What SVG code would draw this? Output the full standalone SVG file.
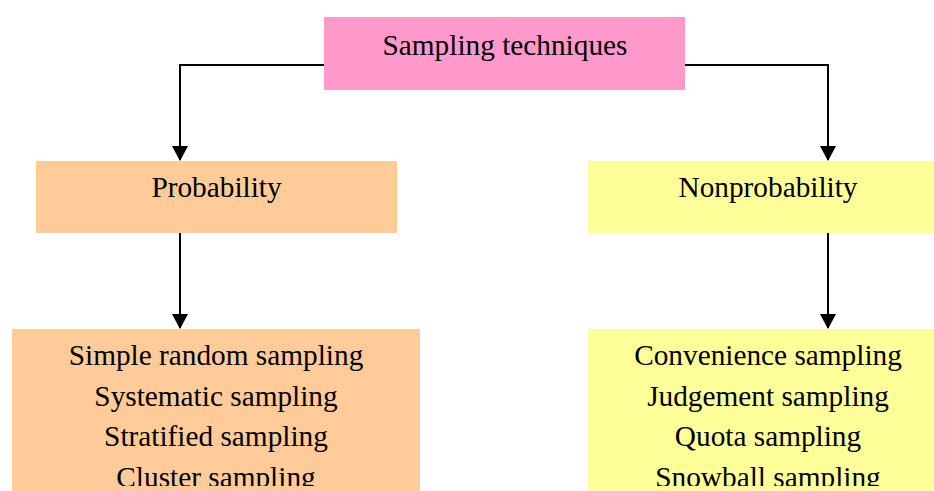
<svg xmlns="http://www.w3.org/2000/svg" width="934" height="491" viewBox="0 0 934 491">
<style>
text{font-family:"Liberation Serif","Times New Roman",serif;font-size:29.3px;fill:#000;text-anchor:middle}
.c{fill:none;stroke:#000;stroke-width:2}
</style>
<defs>
<marker id="ah" markerWidth="8" markerHeight="8" refX="7" refY="4" orient="auto" markerUnits="strokeWidth">
<path d="M0,0 L7.5,4 L0,8 Z" fill="#000"/>
</marker>
<clipPath id="clip"><rect x="0" y="0" width="934" height="486"/></clipPath>
</defs>
<rect width="934" height="491" fill="#fff"/>
<g id="connectors">
<path class="c" d="M324,65 H180 V160" marker-end="url(#ah)"/>
<path class="c" d="M685,65 H828 V160" marker-end="url(#ah)"/>
<path class="c" d="M180,233 V328" marker-end="url(#ah)"/>
<path class="c" d="M828,233 V328" marker-end="url(#ah)"/>
</g>
<g id="root">
<rect x="324" y="17" width="361" height="73" fill="#FF99CC"/>
<text x="505" y="55">Sampling techniques</text>
</g>
<g id="probability">
<rect x="36" y="161" width="361" height="72" fill="#FFCC99"/>
<text x="216.5" y="197">Probability</text>
</g>
<g id="nonprobability">
<rect x="588" y="161" width="360" height="72" fill="#FFFF99"/>
<text x="768" y="197">Nonprobability</text>
</g>
<g id="probability-methods">
<rect x="12" y="329" width="408" height="162" fill="#FFCC99"/>
<g clip-path="url(#clip)">
<text x="216" y="365">Simple random sampling</text>
<text x="216" y="406">Systematic sampling</text>
<text x="216" y="446">Stratified sampling</text>
<text x="216" y="487">Cluster sampling</text>
</g>
</g>
<g id="nonprobability-methods">
<rect x="588" y="329" width="360" height="162" fill="#FFFF99"/>
<g clip-path="url(#clip)">
<text x="768" y="365">Convenience sampling</text>
<text x="768" y="406">Judgement sampling</text>
<text x="768" y="446">Quota sampling</text>
<text x="768" y="487">Snowball sampling</text>
</g>
</g>
</svg>
